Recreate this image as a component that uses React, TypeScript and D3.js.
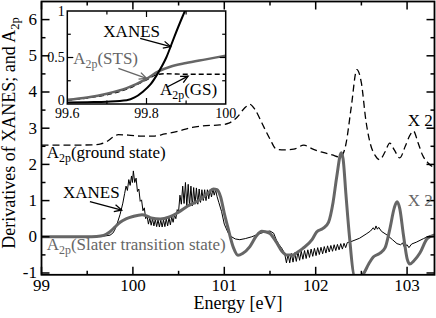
import React from "react";
import * as d3 from "d3";

const W = 436;
const H = 318;

// ---------- data ----------
const xTickValues = [99, 100, 101, 102, 103];
const xTickLabels = ["99", "100", "101", "102", "103"];
const yTickValues = [-1, 0, 1, 2, 3, 4, 5, 6];
const yTickLabels = ["-1", "0", "1", "2", "3", "4", "5", "6"];

const insetXTickValues = [99.6, 99.8, 100];
const insetXTickLabels = ["99.6", "99.8", "100"];
const insetYTickValues = [0, 0.5, 1];
const insetYTickLabels = ["0", "0.5", "1"];

// A2p ground state (dashed, shifted)
const gsMain: [number, number][] = [
  [99.0, 2.53], [99.3, 2.53], [99.55, 2.54], [99.65, 2.57], [99.72, 2.64], [99.78, 2.75],
  [99.84, 2.82], [99.95, 2.81], [100.1, 2.78], [100.22, 2.78], [100.35, 2.84], [100.5, 2.92],
  [100.65, 3.02], [100.8, 3.07], [100.95, 3.09], [101.05, 3.14], [101.14, 3.3], [101.22, 3.55],
  [101.28, 3.66], [101.34, 3.5], [101.41, 3.15], [101.5, 2.7], [101.57, 2.42], [101.66, 2.4],
  [101.76, 2.42], [101.87, 2.53], [101.97, 2.42], [102.08, 2.33], [102.18, 2.26], [102.27, 2.2],
  [102.33, 2.55], [102.39, 3.6], [102.45, 4.62], [102.5, 4.25], [102.55, 3.2], [102.6, 2.55],
  [102.65, 2.25], [102.7, 2.13], [102.76, 2.35], [102.81, 2.59], [102.86, 2.4], [102.92, 2.18],
  [102.98, 2.5], [103.03, 2.8], [103.07, 2.92], [103.12, 2.6], [103.17, 2.25], [103.23, 2.04],
  [103.3, 1.9],
];

// A2p Slater transition state (thick gray)
const stsMain: [number, number][] = [
  [99.0, 0], [99.5, 0], [99.6, 0.01], [99.68, 0.04], [99.75, 0.14], [99.8, 0.26], [99.86, 0.4],
  [99.93, 0.5], [100.0, 0.56], [100.1, 0.61], [100.15, 0.58], [100.2, 0.52], [100.3, 0.49],
  [100.4, 0.55], [100.5, 0.68], [100.6, 0.85], [100.73, 1.02], [100.82, 1.2], [100.88, 1.32],
  [100.92, 1.3], [100.96, 1.1], [101.0, 0.65], [101.04, 0.25], [101.1, -0.3], [101.15, -0.51],
  [101.2, -0.46], [101.28, -0.27], [101.35, 0.02], [101.41, 0.15], [101.45, 0.14], [101.5, 0.09],
  [101.57, -0.15], [101.63, -0.4], [101.68, -0.5], [101.75, -0.5], [101.8, -0.43], [101.86, -0.32],
  [101.96, -0.08], [102.01, 0.13], [102.08, 0.23], [102.14, 0.4], [102.19, 0.95], [102.23, 1.65],
  [102.28, 2.32], [102.3, 2.15], [102.33, 1.2], [102.37, 0.0], [102.42, -1.06], [102.47, -1.1],
  [102.52, -1.03], [102.58, -0.75], [102.63, -0.56], [102.7, -0.46], [102.76, -0.3], [102.81, 0.2],
  [102.86, 0.8], [102.89, 0.97], [102.92, 0.78], [102.96, 0.05], [103.0, -0.6], [103.03, -0.75],
  [103.08, -0.65], [103.14, -0.45], [103.22, -0.05], [103.3, 0.05],
];

// derivative of XANES (thin black)
const xanesMain: [number, number][] = [
  [99.0, 0], [99.6, 0.01], [99.7, 0.025], [99.75, 0.045], [99.78, 0.1], [99.8, 0.18], [99.83, 0.38],
  [99.86, 0.62], [99.89, 0.93], [99.91, 1.2], [99.925, 1.4], [99.94, 1.28], [99.955, 1.58],
  [99.97, 1.42], [99.985, 1.68], [99.995, 1.5], [100.005, 1.82], [100.02, 1.5], [100.035, 1.62],
  [100.05, 1.25], [100.065, 1.32], [100.08, 0.98], [100.095, 1.02], [100.11, 0.72], [100.125, 0.8],
  [100.14, 0.5], [100.155, 0.58],
  [100.17, 0.35], [100.185, 0.52], [100.2, 0.32], [100.215, 0.5], [100.23, 0.3], [100.245, 0.48],
  [100.26, 0.28], [100.275, 0.47], [100.29, 0.27], [100.305, 0.46], [100.32, 0.27], [100.335, 0.47],
  [100.35, 0.28], [100.365, 0.5], [100.38, 0.3], [100.395, 0.52], [100.41, 0.33], [100.425, 0.55],
  [100.44, 0.4], [100.455, 0.6], [100.47, 0.5], [100.485, 0.75], [100.5, 0.7], [100.515, 1.15],
  [100.53, 0.9], [100.545, 1.4], [100.56, 0.92], [100.575, 1.5], [100.59, 0.85], [100.605, 1.45],
  [100.62, 0.85], [100.635, 1.4], [100.65, 0.85], [100.665, 1.36], [100.68, 0.9], [100.695, 1.35],
  [100.71, 0.9], [100.725, 1.32], [100.74, 0.95], [100.755, 1.3], [100.77, 1.0], [100.785, 1.3],
  [100.8, 1.0], [100.815, 1.3], [100.83, 1.05], [100.845, 1.3], [100.86, 1.1], [100.875, 1.32],
  [100.89, 1.15], [100.905, 1.3], [100.92, 1.12], [100.94, 0.95], [100.97, 0.7], [101.0, 0.35],
  [101.04, 0.12], [101.08, 0.0], [101.12, -0.06], [101.17, -0.08], [101.23, -0.05], [101.3, 0.0],
  [101.38, 0.08], [101.45, 0.14], [101.5, 0.16], [101.54, 0.1], [101.57, -0.09], [101.6, -0.22],
  [101.63, -0.32], [101.66, -0.46],
  [101.68, -0.72], [101.698, -0.48], [101.716, -0.72], [101.734, -0.46], [101.752, -0.7],
  [101.77, -0.44], [101.788, -0.68], [101.806, -0.42], [101.824, -0.65], [101.842, -0.4],
  [101.86, -0.62], [101.878, -0.38], [101.896, -0.6], [101.914, -0.36], [101.932, -0.57],
  [101.95, -0.34], [101.968, -0.54], [101.986, -0.32], [102.004, -0.52], [102.022, -0.3],
  [102.04, -0.49], [102.058, -0.29], [102.076, -0.47], [102.094, -0.27], [102.112, -0.45],
  [102.13, -0.25], [102.148, -0.42], [102.166, -0.24], [102.184, -0.4], [102.202, -0.22],
  [102.22, -0.38], [102.238, -0.21], [102.256, -0.36], [102.274, -0.19], [102.292, -0.34],
  [102.31, -0.18], [102.328, -0.3], [102.346, -0.16],
  [102.38, -0.14], [102.43, -0.09], [102.48, -0.04], [102.56, 0.09], [102.6, 0.16], [102.63, 0.25],
  [102.645, 0.19], [102.66, 0.3], [102.675, 0.21], [102.69, 0.26], [102.72, 0.15], [102.78, 0.05],
  [102.84, -0.08], [102.89, -0.19], [102.93, -0.22], [102.95, -0.17], [102.97, -0.28], [103.0, -0.22],
  [103.02, -0.3], [103.05, -0.2], [103.1, -0.15], [103.18, -0.05], [103.24, 0.02], [103.3, 0.05],
];

// inset series
const xanesInset: [number, number][] = [
  [99.6, 0.015], [99.65, 0.02], [99.7, 0.025], [99.75, 0.04], [99.77, 0.07], [99.79, 0.13],
  [99.81, 0.21], [99.83, 0.34], [99.85, 0.5], [99.87, 0.72], [99.89, 0.93], [99.9, 1.03],
];
const stsInset: [number, number][] = [
  [99.6, 0.045], [99.65, 0.07], [99.7, 0.11], [99.75, 0.17], [99.8, 0.27], [99.83, 0.35],
  [99.86, 0.4], [99.9, 0.44], [99.95, 0.48], [100, 0.52],
];
const gsInset: [number, number][] = [
  [99.6, 0.04], [99.65, 0.065], [99.7, 0.1], [99.75, 0.16], [99.8, 0.26], [99.83, 0.32],
  [99.85, 0.325], [99.9, 0.32], [100, 0.32],
];

const GRAY = "#666666";
const FONT = "'Liberation Serif', 'Times New Roman', serif";

function Arrow({ x1, y1, x2, y2, color }: { x1: number; y1: number; x2: number; y2: number; color: string }) {
  const ang = Math.atan2(y2 - y1, x2 - x1);
  const L = 8;
  const a = 0.45;
  const p1 = [x2 - L * Math.cos(ang - a), y2 - L * Math.sin(ang - a)];
  const p2 = [x2 - L * Math.cos(ang + a), y2 - L * Math.sin(ang + a)];
  return (
    <g stroke={color} strokeWidth={1.3} fill="none">
      <line x1={x1} y1={y1} x2={x2} y2={y2} />
      <path d={`M${p1[0]},${p1[1]}L${x2},${y2}L${p2[0]},${p2[1]}`} />
    </g>
  );
}

function A2p({ x, y, rest, fill, size }: { x: number; y: number; rest: string; fill: string; size: number }) {
  return (
    <text x={x} y={y} fill={fill} fontSize={size} fontFamily={FONT}>
      A
      <tspan fontSize={size * 0.7} dy={4}>2p</tspan>
      <tspan dy={-4}>{rest}</tspan>
    </text>
  );
}

export default function App() {
  const L = 41.5, R = 434.5, T = 1.5, B = 274.8;
  const x = d3.scaleLinear().domain([99, 103.3]).range([L, R]);
  const y = d3.scaleLinear().domain([-1.05, 6.5]).range([B, T]);

  const iL = 67.3, iR = 225.7, iT = 11, iB = 104;
  const xi = d3.scaleLinear().domain([99.6, 100]).range([iL, iR]);
  const yi = d3.scaleLinear().domain([0, 1]).range([iB, iT]);

  const smooth = d3.line<[number, number]>().x((d) => x(d[0])).y((d) => y(d[1])).curve(d3.curveMonotoneX);
  const straight = d3.line<[number, number]>().x((d) => x(d[0])).y((d) => y(d[1]));
  const ismooth = d3.line<[number, number]>().x((d) => xi(d[0])).y((d) => yi(d[1])).curve(d3.curveMonotoneX);

  const xMinor = d3.range(99.5, 103.3, 1);
  const yMinor = d3.range(-0.5, 6.5, 1);
  const ixMinor = [99.7, 99.9];
  const ixMajor = [99.8];
  const iyMinor = [0.25, 0.75];
  const iyMajor = [0.5];

  const fs = 17;

  return (
    <svg width={W} height={H} style={{ position: "absolute", left: 0, top: 0, background: "#fff" }}>
      <defs>
        <clipPath id="mainclip">
          <rect x={L} y={T} width={R - L} height={B - T} />
        </clipPath>
        <clipPath id="insetclip">
          <rect x={iL} y={iT} width={iR - iL} height={iB - iT} />
        </clipPath>
      </defs>
      <rect x={0} y={0} width={W} height={H} fill="#fff" />

      {/* main curves */}
      <g clipPath="url(#mainclip)" fill="none">
        <path d={smooth(gsMain) || ""} stroke="#000" strokeWidth={1.3} strokeDasharray="7,4" />
        <path d={straight(xanesMain) || ""} stroke="#000" strokeWidth={1} />
        <path d={smooth(stsMain) || ""} stroke={GRAY} strokeWidth={3} strokeLinejoin="round" />
      </g>

      {/* main frame & ticks */}
      <rect x={L} y={T} width={R - L} height={B - T} fill="none" stroke="#000" strokeWidth={1.8} />
      <g stroke="#000" strokeWidth={1.5}>
        {xTickValues.map((v) => (
          <g key={"xt" + v}>
            <line x1={x(v)} x2={x(v)} y1={B} y2={B - 8} />
            <line x1={x(v)} x2={x(v)} y1={T} y2={T + 8} />
          </g>
        ))}
        {xMinor.map((v) => (
          <g key={"xm" + v}>
            <line x1={x(v)} x2={x(v)} y1={B} y2={B - 4} />
            <line x1={x(v)} x2={x(v)} y1={T} y2={T + 4} />
          </g>
        ))}
        {yTickValues.map((v) => (
          <g key={"yt" + v}>
            <line x1={L} x2={L + 8} y1={y(v)} y2={y(v)} />
            <line x1={R} x2={R - 8} y1={y(v)} y2={y(v)} />
          </g>
        ))}
        {yMinor.map((v) => (
          <g key={"ym" + v}>
            <line x1={L} x2={L + 4} y1={y(v)} y2={y(v)} />
            <line x1={R} x2={R - 4} y1={y(v)} y2={y(v)} />
          </g>
        ))}
      </g>
      <g fontFamily={FONT} fontSize={fs} fill="#000">
        {xTickValues.map((v, i) => (
          <text key={"xl" + v} x={x(v)} y={291} textAnchor="middle">{xTickLabels[i]}</text>
        ))}
        {yTickValues.map((v, i) => (
          <text key={"yl" + v} x={L - 4.5} y={y(v)} dy="0.32em" textAnchor="end">{yTickLabels[i]}</text>
        ))}
        <text x={(L + R) / 2} y={309} textAnchor="middle" fontSize={18}>Energy [eV]</text>
        <text transform={`translate(15,133) rotate(-90)`} textAnchor="middle" fontSize={18}>
          Derivatives of XANES; and A
          <tspan fontSize={12.5} dy={4}>2p</tspan>
        </text>
      </g>

      {/* main annotations */}
      <A2p x={x(99.057)} y={y(2.17)} rest="(ground state)" fill="#000" size={fs} />
      <A2p x={x(99.057)} y={y(-0.37)} rest="(Slater transition state)" fill={GRAY} size={fs} />
      <text x={x(99.235)} y={y(1.07)} fontFamily={FONT} fontSize={fs} fill="#000">XANES</text>
      <Arrow x1={x(99.53)} y1={y(0.97)} x2={x(99.877)} y2={y(0.74)} color="#000" />
      <text x={x(103.28)} y={y(3.07)} fontFamily={FONT} fontSize={fs} fill="#000" textAnchor="end">X 2</text>
      <text x={x(103.28)} y={y(0.85)} fontFamily={FONT} fontSize={fs} fill={GRAY} textAnchor="end">X 2</text>

      {/* inset */}
      <rect x={iL} y={iT} width={iR - iL} height={iB - iT} fill="#fff" />
      <g clipPath="url(#insetclip)" fill="none">
        <path d={ismooth(gsInset) || ""} stroke="#000" strokeWidth={1.4} strokeDasharray="5,3" />
        <path d={ismooth(stsInset) || ""} stroke={GRAY} strokeWidth={2.5} />
        <path d={ismooth(xanesInset) || ""} stroke="#000" strokeWidth={2} />
      </g>
      <rect x={iL} y={iT} width={iR - iL} height={iB - iT} fill="none" stroke="#000" strokeWidth={1.5} />
      <g stroke="#000" strokeWidth={1.2}>
        {ixMajor.map((v) => (
          <g key={"ixt" + v}>
            <line x1={xi(v)} x2={xi(v)} y1={iB} y2={iB - 6} />
            <line x1={xi(v)} x2={xi(v)} y1={iT} y2={iT + 6} />
          </g>
        ))}
        {ixMinor.map((v) => (
          <g key={"ixm" + v}>
            <line x1={xi(v)} x2={xi(v)} y1={iB} y2={iB - 3.5} />
            <line x1={xi(v)} x2={xi(v)} y1={iT} y2={iT + 3.5} />
          </g>
        ))}
        {iyMajor.map((v) => (
          <g key={"iyt" + v}>
            <line x1={iL} x2={iL + 6} y1={yi(v)} y2={yi(v)} />
            <line x1={iR} x2={iR - 6} y1={yi(v)} y2={yi(v)} />
          </g>
        ))}
        {iyMinor.map((v) => (
          <g key={"iym" + v}>
            <line x1={iL} x2={iL + 3.5} y1={yi(v)} y2={yi(v)} />
            <line x1={iR} x2={iR - 3.5} y1={yi(v)} y2={yi(v)} />
          </g>
        ))}
      </g>
      <g fontFamily={FONT} fontSize={14} fill="#000">
        {insetXTickValues.map((v, i) => (
          <text key={"ixl" + v} x={xi(v)} y={iB + 14} textAnchor="middle">{insetXTickLabels[i]}</text>
        ))}
        {insetYTickValues.map((v, i) => (
          <text key={"iyl" + v} x={iL - 2.5} y={yi(v)} dy={v === 0 ? "0.1em" : "0.34em"} textAnchor="end">{insetYTickLabels[i]}</text>
        ))}
      </g>
      <text x={xi(99.691)} y={yi(0.717)} fontFamily={FONT} fontSize={fs} fill="#000">XANES</text>
      <Arrow x1={xi(99.784)} y1={yi(0.706)} x2={xi(99.861)} y2={yi(0.617)} color="#000" />
      <A2p x={xi(99.615)} y={yi(0.43)} rest="(STS)" fill={GRAY} size={fs} />
      <Arrow x1={xi(99.729)} y1={yi(0.384)} x2={xi(99.8)} y2={yi(0.276)} color={GRAY} />
      <A2p x={xi(99.834)} y={yi(0.097)} rest="(GS)" fill="#000" size={fs} />
      <Arrow x1={xi(99.851)} y1={yi(0.18)} x2={xi(99.905)} y2={yi(0.3)} color="#000" />
    </svg>
  );
}
